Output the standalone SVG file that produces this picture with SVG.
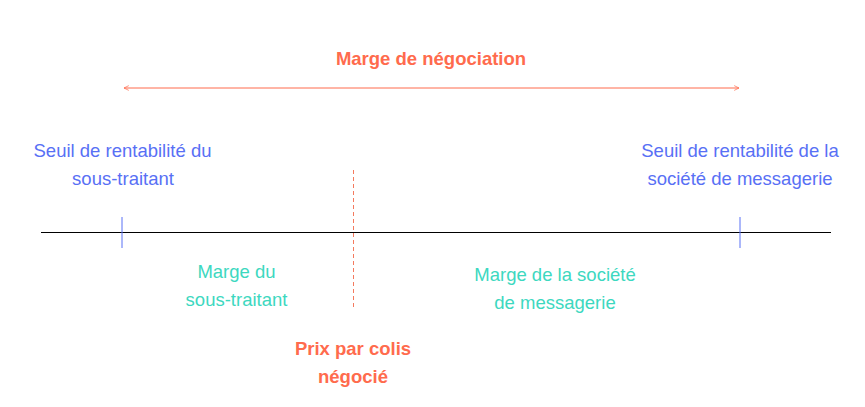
<svg xmlns="http://www.w3.org/2000/svg" width="865" height="407" viewBox="0 0 865 407">
<defs>
<style>
text{font-family:"Liberation Sans",Arial,sans-serif;font-size:18.5px;text-anchor:middle}
.o{fill:#FF6B4D;font-weight:bold}
.b{fill:#5870F5}
.t{fill:#3DD8BF}
</style>
<marker id="ah" viewBox="0 0 10 10" refX="9" refY="5" markerWidth="6" markerHeight="6" orient="auto-start-reverse" markerUnits="userSpaceOnUse">
<path d="M1,1 L9,5 L1,9" fill="none" stroke="#FF6B4D" stroke-width="1.2"/>
</marker>
</defs>
<rect width="865" height="407" fill="#fff"/>
<g id="connectors">
<line x1="124" y1="88" x2="739" y2="88" stroke="#FF6B4D" stroke-width="1" marker-start="url(#ah)" marker-end="url(#ah)"/>
<line x1="41" y1="232.5" x2="831" y2="232.5" stroke="#000" stroke-width="1"/>
<line x1="122" y1="217" x2="122" y2="248" stroke="#5870F5" stroke-width="1"/>
<line x1="740" y1="217" x2="740" y2="248" stroke="#5870F5" stroke-width="1"/>
<line x1="353.5" y1="170" x2="353.5" y2="307" stroke="#F47A5E" stroke-width="1" stroke-dasharray="4,3"/>
</g>
<g id="marge-negociation"><text class="o" x="431" y="65">Marge de négociation</text></g>
<g id="seuil-sous-traitant"><text class="b" x="122.5" y="157">Seuil de rentabilité du</text><text class="b" x="123" y="185">sous-traitant</text></g>
<g id="seuil-messagerie"><text class="b" x="740" y="157">Seuil de rentabilité de la</text><text class="b" x="740" y="185">société de messagerie</text></g>
<g id="marge-sous-traitant"><text class="t" x="236.5" y="278">Marge du</text><text class="t" x="236.5" y="306">sous-traitant</text></g>
<g id="marge-messagerie"><text class="t" x="555" y="281">Marge de la société</text><text class="t" x="555" y="309">de messagerie</text></g>
<g id="prix-negocie"><text class="o" x="353" y="355">Prix par colis</text><text class="o" x="353" y="383">négocié</text></g>
</svg>
